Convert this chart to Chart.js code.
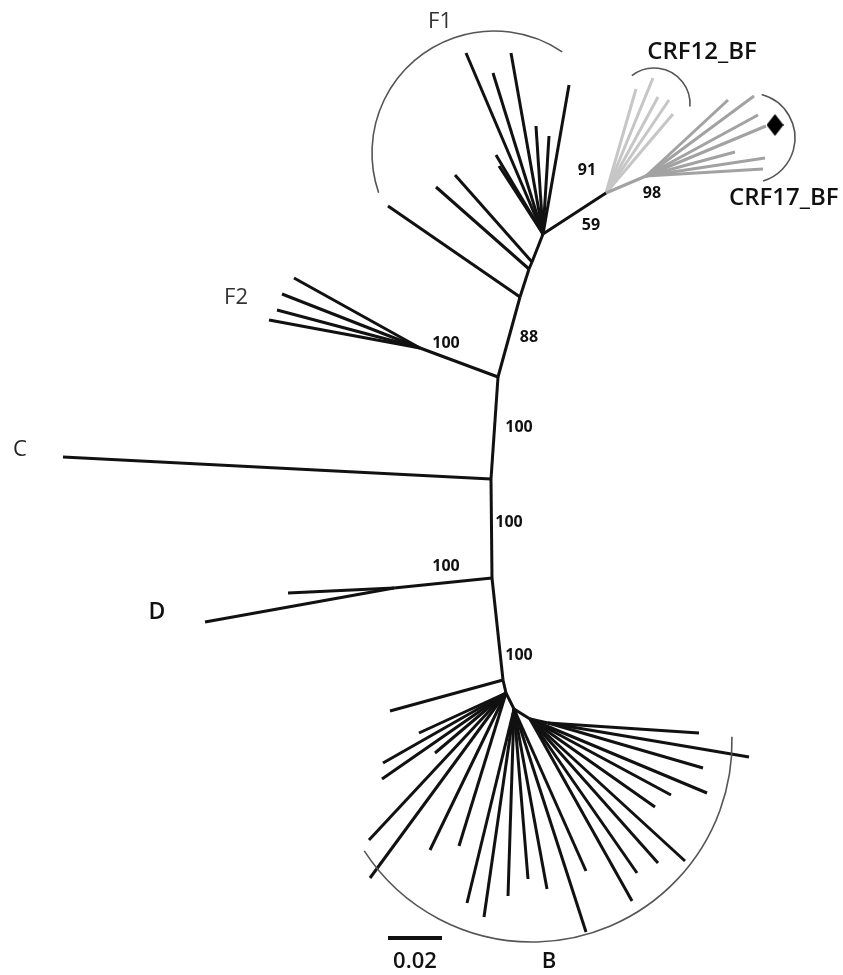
<!DOCTYPE html>
<html>
<head>
<meta charset="utf-8">
<script src="https://cdn.jsdelivr.net/npm/chart.js@4.4.1/dist/chart.umd.min.js"></script>
<style>
  body { margin: 0; background: #fff; }
  canvas { display: block; }
</style>
</head>
<body>
<canvas id="tree" width="843" height="975"></canvas>
<script>
// internal nodes of the unrooted tree (figure units)
const nodes = {
  f1: [543, 234], f1b: [532, 262], f1c: [529, 269], f1d: [520, 297],
  crf: [606, 193], crf17: [646, 176],
  f2: [498, 377], f2hub: [420, 348],
  c: [491, 479], d: [492, 578], dhub: [394, 588],
  b0: [503, 680], b1: [506, 693], b2: [514, 709], b3: [530, 719], b4: [548, 723]
};
const backbone = [
  ['f1', 'f1b'], ['f1b', 'f1c'], ['f1c', 'f1d'], ['f1d', 'f2'], ['f2', 'c'], ['c', 'd'],
  ['d', 'b0'], ['b0', 'b1'], ['b1', 'b2'], ['b2', 'b3'], ['b3', 'b4'],
  ['f1', 'crf'], ['f2', 'f2hub'], ['d', 'dhub']
];
// leaves: [parent node, x, y]
const tipsF1 = [
  ['f1', 466, 53], ['f1', 511, 53], ['f1', 493, 73], ['f1', 569, 85], ['f1', 536, 126],
  ['f1', 549, 136], ['f1', 496, 155], ['f1', 499, 166],
  ['f1b', 455, 175], ['f1c', 436, 187], ['f1d', 388, 206]
];
const tipsCRF12 = [['crf', 636, 89], ['crf', 653, 78], ['crf', 658, 97], ['crf', 669, 100], ['crf', 673, 114]];
const tipsCRF17 = [
  ['crf17', 728, 100], ['crf17', 754, 96], ['crf17', 758, 115], ['crf17', 766, 126],
  ['crf17', 735, 152], ['crf17', 765, 158], ['crf17', 763, 169]
];
const tipsF2 = [['f2hub', 294, 278], ['f2hub', 282, 294], ['f2hub', 277, 310], ['f2hub', 269, 320]];
const tipsC = [['c', 63, 457]];
const tipsD = [['dhub', 288, 593], ['dhub', 205, 622]];
const tipsB = [
  ['b0', 390, 711],
  ['b1', 419, 733], ['b1', 383, 763], ['b1', 435, 753], ['b1', 382, 779],
  ['b1', 369, 840], ['b1', 370, 878], ['b1', 430, 850], ['b1', 459, 846],
  ['b2', 467, 903], ['b2', 484, 917], ['b2', 508, 896], ['b2', 528, 879], ['b2', 547, 889],
  ['b2', 586, 932], ['b2', 586, 871],
  ['b3', 632, 901], ['b3', 637, 873], ['b3', 658, 863], ['b3', 685, 861], ['b3', 655, 807],
  ['b3', 671, 795], ['b3', 707, 793],
  ['b4', 703, 768], ['b4', 749, 757], ['b4', 699, 733]
];
// bootstrap support values
const bootLabels = ['91', '59', '98', '88', '100', '100', '100', '100', '100'];
const bootPos = [[587, 170], [591, 225], [652, 193], [529, 337], [446, 343], [519, 427], [509, 522], [446, 566], [519, 655]];
// clade names and brackets
const cladeNames = ['F1', 'CRF12_BF', 'CRF17_BF', 'F2', 'C', 'D', 'B'];
const cladeArcs = [
  { cx: 494, cy: 153, r: 122, a0: 161, a1: 304 },
  { cx: 654, cy: 104, r: 36, a0: 232, a1: 364 },
  { cx: 750, cy: 138, r: 45, a0: -75, a1: 73 },
  null, null, null,
  { cx: 532, cy: 742, r: 200, a0: -1.5, a1: 147 }
];
const marked = [[775, 125]];
const scaleBar = 0.02;
const unitsPerDist = 2700;   // figure units per substitution/site

const BLACK = '#111', LIGHT = '#c6c6c6', MID = '#a2a2a2';

var pt = function (name) {
  return { x: nodes[name][0], y: nodes[name][1] };
}
var seg = function (a, b, color) {
  return {
    data: [a, b],
    showLine: true,
    borderColor: color,
    borderWidth: 3,
    pointRadius: 0,
  };
}

let datasets = [];
backbone.forEach(e => datasets.push(seg(pt(e[0]), pt(e[1]), BLACK)));
datasets.push(seg(pt('crf'), pt('crf17'), MID));
const groups = [[tipsF1, BLACK], [tipsCRF12, LIGHT], [tipsCRF17, MID], [tipsF2, BLACK], [tipsC, BLACK], [tipsD, BLACK], [tipsB, BLACK]];
groups.forEach(g => {
  g[0].forEach(t => datasets.push(seg(pt(t[0]), { x: t[1], y: t[2] }, g[1])));
});
// scale bar, 0.02
datasets.push({
  data: [{ x: 388, y: 938 }, { x: 388 + scaleBar * unitsPerDist, y: 938 }],
  showLine: true, borderColor: BLACK, borderWidth: 4, pointRadius: 0
});

// diamond marker
const diamond = document.createElement('canvas');
diamond.width = 17; diamond.height = 22;
(function () {
  const c = diamond.getContext('2d');
  c.fillStyle = '#000';
  c.beginPath();
  c.moveTo(8.5, 0); c.lineTo(17, 11); c.lineTo(8.5, 22); c.lineTo(0, 11);
  c.closePath(); c.fill();
})();
datasets.push({
  data: marked.map(m => ({ x: m[0], y: m[1] })),
  pointStyle: diamond,
  pointRadius: 10,
});

// label positions for clade names
const namePos = [
  { x: 440, y: 22, font: '400 22px "Open Sans"', color: '#333', align: 'center' },
  { x: 702, y: 52, font: '600 24px "Open Sans"', color: '#111', align: 'center' },
  { x: 729, y: 198, font: '600 24px "Open Sans"', color: '#111', align: 'left' },
  { x: 236, y: 298, font: '400 22px "Open Sans"', color: '#333', align: 'center' },
  { x: 20, y: 450, font: '400 22px "Open Sans"', color: '#222', align: 'center' },
  { x: 157, y: 612, font: '600 23px "Open Sans"', color: '#111', align: 'center' },
  { x: 549, y: 962, font: '600 22px "Open Sans"', color: '#111', align: 'center' }
];

const decorations = {
  id: 'decorations',
  afterDatasetsDraw(chart) {
    const ctx = chart.ctx;
    const sx = chart.scales.x, sy = chart.scales.y;
    ctx.save();
    // clade brackets
    ctx.strokeStyle = '#555';
    ctx.lineWidth = 1.6;
    cladeArcs.forEach(a => {
      if (!a) return;
      const cx = sx.getPixelForValue(a.cx), cy = sy.getPixelForValue(a.cy);
      const r = sx.getPixelForValue(a.cx + a.r) - cx;
      ctx.beginPath();
      ctx.arc(cx, cy, r, a.a0 * Math.PI / 180, a.a1 * Math.PI / 180);
      ctx.stroke();
    });
    ctx.textBaseline = 'middle';
    // clade names
    cladeNames.forEach((name, i) => {
      const p = namePos[i];
      ctx.font = p.font;
      ctx.fillStyle = p.color;
      ctx.textAlign = p.align;
      ctx.fillText(name, sx.getPixelForValue(p.x), sy.getPixelForValue(p.y));
    });
    // bootstrap values
    ctx.font = '700 16px "Open Sans"';
    ctx.fillStyle = '#111';
    ctx.textAlign = 'center';
    bootLabels.forEach((lab, i) => {
      ctx.fillText(lab, sx.getPixelForValue(bootPos[i][0]), sy.getPixelForValue(bootPos[i][1]));
    });
    // scale bar label
    ctx.font = '600 22px "Open Sans"';
    ctx.fillText(String(scaleBar), sx.getPixelForValue(388 + scaleBar * unitsPerDist / 2), sy.getPixelForValue(962));
    ctx.restore();
  }
};

const chart = new Chart(document.getElementById('tree').getContext('2d'), {
  type: 'scatter',
  data: { datasets: datasets },
  plugins: [decorations],
  options: {
    responsive: false,
    animation: false,
    layout: { padding: 0, autoPadding: false },
    plugins: {
      legend: { display: false },
      tooltip: { enabled: false }
    },
    scales: {
      x: { type: 'linear', min: 0, max: 843, display: false },
      y: { type: 'linear', min: 0, max: 975, reverse: true, display: false }
    }
  }
});
</script>
</body>
</html>
